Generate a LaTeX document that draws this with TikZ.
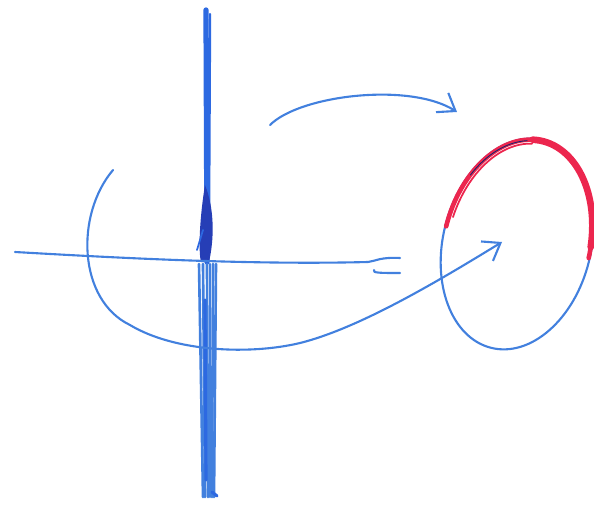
\documentclass[tikz,border=0pt]{standalone}
\usetikzlibrary{arrows.meta}
\definecolor{penblue}{RGB}{66,128,222}
\definecolor{wallblue}{RGB}{45,105,225}
\definecolor{inkblue}{RGB}{38,62,182}
\definecolor{penred}{RGB}{236,38,78}
\begin{document}
\begin{tikzpicture}[x=0.02cm,y=-0.02cm,>={Straight Barb[length=9pt,width=13pt]},
 pen/.style={draw=penblue,line width=1.2pt,line cap=round,line join=round},
 wall/.style={draw=wallblue,line width=1.8pt,line cap=round},
 redpen/.style={draw=penred,line cap=round,rotate around={-14:(sphere)}}]
\useasboundingbox (0,0) rectangle (594,506);
\coordinate (sphere) at (517,244);
\coordinate (arcA) at (270,125);
\coordinate (arcB) at (457,112);
\coordinate (loopA) at (113,170);
\coordinate (loopB) at (502,242);
\coordinate (lineL) at (15,252);
\coordinate (lineR) at (400,258);
\draw[wall,line width=3pt] (206,10) -- (207,262);
\draw[wall,line width=1.4pt] (210,14) -- (209,220);
\fill[inkblue] (205,185) .. controls (215,210) and (214,240) .. (209,262) -- (201,262)
 .. controls (198,250) and (200,215) .. (205,185);
\draw[wall,line width=1pt] (203,230) -- (197,250);
\foreach \xa/\xb in {199/203,203/205,207/208,210/210,213/212,216/214}
 \draw[wall,draw=penblue,line width=1.5pt] (\xa,264) -- (\xb,497);
\draw[wall] (205,300) -- (206,480);
\draw[wall] (212,492) -- (217,496);
\draw[pen] (lineL) .. controls (120,258) and (250,265) .. (368,262)
 .. controls (376,261) and (380,257) .. (lineR);
\draw[pen] (374,270) .. controls (372,273) and (380,273) .. (400,273);
\draw[pen,rotate around={-14:(sphere)}] (sphere) ellipse [x radius=74,y radius=107];
\draw[redpen,line width=2.6pt] (sphere) ++(180:73 and 106) arc[start angle=180,end angle=358,x radius=73,y radius=106];
\draw[redpen,line width=3.8pt] (sphere) ++(262:73 and 106) arc[start angle=262,end angle=352,x radius=73,y radius=106];
\draw[redpen,line width=1pt] (sphere) ++(186:69 and 102) arc[start angle=186,end angle=262,x radius=69,y radius=102];
\draw[redpen,draw=inkblue!60!black,line width=0.5pt] (sphere) ++(212:73 and 105) arc[start angle=212,end angle=258,x radius=73,y radius=105];
\draw[pen,->] (arcA) .. controls (300,95) and (410,82) .. (arcB);
\draw[pen,->] (loopA) .. controls (75,215) and (78,300) .. (130,325)
 .. controls (175,352) and (250,355) .. (300,343)
 .. controls (360,328) and (440,280) .. (loopB);
\end{tikzpicture}
\end{document}
